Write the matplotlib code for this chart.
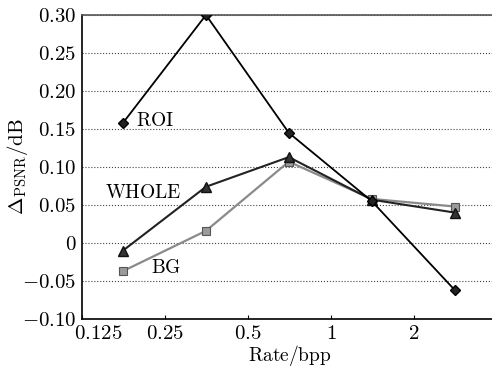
import matplotlib
matplotlib.use("Agg")
from matplotlib import pyplot as plt
from matplotlib.ticker import FixedLocator, FixedFormatter, NullLocator
from matplotlib.transforms import ScaledTranslation

plt.rcParams['font.family'] = ['DejaVu Serif']
plt.rcParams['mathtext.fontset'] = 'cm'

# data
rate = [0.176, 0.352, 0.703, 1.406, 2.8125]
roi = [0.158, 0.300, 0.145, 0.055, -0.062]
whole = [-0.010, 0.074, 0.113, 0.057, 0.040]
bg = [-0.037, 0.016, 0.107, 0.058, 0.048]

xticks = [0.125, 0.25, 0.5, 1, 2]
xticklabels = ['$0.125$', '$0.25$', '$0.5$', '$1$', '$2$']
yticks = [-0.10, -0.05, 0, 0.05, 0.10, 0.15, 0.20, 0.25, 0.30]
yticklabels = ['$-0.10$', '$-0.05$', '$0$', '$0.05$', '$0.10$', '$0.15$', '$0.20$', '$0.25$', '$0.30$']

fig = plt.figure(figsize=(4.92, 3.67), dpi=100)
ax = fig.add_axes([82/492, 48/367, 415/492, 304/367])

ax.plot(rate, bg, color='#8a8a8a', lw=1.6, marker='s', ms=6,
        mfc='#9a9a9a', mec='#555555', mew=0.8, zorder=3)
ax.plot(rate, whole, color='#222222', lw=1.5, marker='^', ms=7.5,
        mfc='#333333', mec='#111111', zorder=4)
ax.plot(rate, roi, color='black', lw=1.3, marker='D', ms=5.5,
        mfc='#222222', mec='black', zorder=5)

ax.text(0.197, 0.160, r'$\mathrm{ROI}$', fontsize=14, va='center', ha='left')
ax.text(0.208, 0.066, r'$\mathrm{WHOLE}$', fontsize=14, va='center', ha='center')
ax.text(0.253, -0.033, r'$\mathrm{BG}$', fontsize=14, va='center', ha='center')

ax.set_xscale('log', base=2)
ax.set_xlim(0.125, 4)
ax.set_ylim(-0.10, 0.30)
ax.xaxis.set_major_locator(FixedLocator(xticks))
ax.xaxis.set_major_formatter(FixedFormatter(xticklabels))
ax.xaxis.set_minor_locator(NullLocator())
ax.yaxis.set_major_locator(FixedLocator(yticks))
ax.yaxis.set_major_formatter(FixedFormatter(yticklabels))

ax.tick_params(direction='in', labelsize=15, length=3, width=0.8)
ax.tick_params(axis='y', length=0, pad=4)
ax.grid(axis='y', linestyle=':', color='#444444', lw=0.8)
for s in ax.spines.values():
    s.set_linewidth(1.2)
ax.spines['top'].set_color('#555555')

# shift the first x label to the right so it clears the y labels
first = ax.xaxis.get_major_ticks()[0].label1
first.set_transform(first.get_transform() + ScaledTranslation(0.16, 0, fig.dpi_scale_trans))

ax.set_xlabel(r'$\mathrm{Rate/bpp}$', fontsize=14)
ax.set_ylabel(r'$\Delta_{\mathrm{PSNR}}/\mathrm{dB}$', fontsize=15)
ax.xaxis.set_label_coords(0.5, -0.08)
ax.yaxis.set_label_coords(-0.125, 0.5)

fig.savefig('out.png', dpi=100)
